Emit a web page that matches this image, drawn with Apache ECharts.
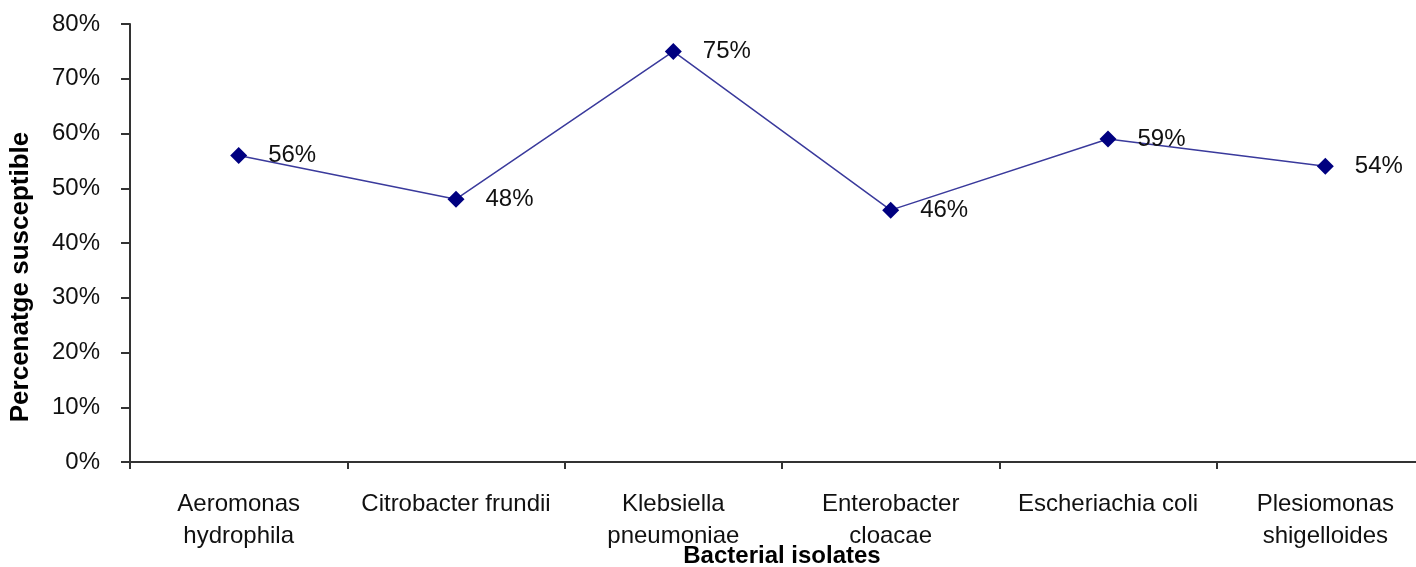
<!DOCTYPE html>
<html>
<head>
<meta charset="utf-8">
<script src="https://cdn.jsdelivr.net/npm/echarts@6/dist/echarts.min.js"></script>
<style>html,body{margin:0;padding:0;background:#fff}#c{width:1416px;height:567px}</style>
</head>
<body>
<div id="c"></div>
<script>
const categories = ["Aeromonas\nhydrophila", "Citrobacter frundii", "Klebsiella\npneumoniae", "Enterobacter\ncloacae", "Escheriachia coli", "Plesiomonas\nshigelloides"];
const susceptible = [56, 48, 75, 46, 59, 54];
const yTicks = { min: 0, max: 80, interval: 10 };
const xTitle = "Bacterial isolates";
const yTitle = "Percenatge susceptible";

const chart = echarts.init(document.getElementById('c'), null, { renderer: 'canvas' });
const FONT = '"Liberation Sans", Arial, sans-serif';
chart.setOption({
  backgroundColor: '#ffffff',
  animation: false,
  grid: { left: 130, right: -18, top: 24, bottom: 105, containLabel: false, outerBoundsMode: 'none' },
  xAxis: {
    type: 'category',
    data: categories,
    boundaryGap: true,
    name: xTitle,
    nameLocation: 'middle',
    nameGap: 82,
    nameMoveOverlap: false,
    nameTextStyle: { fontFamily: FONT, fontSize: 24, fontWeight: 'bold', color: '#000' },
    axisLine: { lineStyle: { color: '#333', width: 2 } },
    axisTick: { show: true, length: 7, lineStyle: { color: '#333', width: 2 } },
    axisLabel: { interval: 0, margin: 26, fontFamily: FONT, fontSize: 24, lineHeight: 32, color: '#111', align: 'center' },
    splitLine: { show: false }
  },
  yAxis: {
    type: 'value',
    min: yTicks.min, max: yTicks.max, interval: yTicks.interval,
    name: yTitle,
    nameLocation: 'middle',
    nameGap: 96,
    nameRotate: 90,
    nameMoveOverlap: false,
    nameTextStyle: { fontFamily: FONT, fontSize: 26, fontWeight: 'bold', color: '#000', padding: [0, 68, 0, 0] },
    axisLine: { show: true, lineStyle: { color: '#333', width: 2 } },
    axisTick: { show: true, length: 9, lineStyle: { color: '#333', width: 2 } },
    axisLabel: { margin: 30, fontFamily: FONT, fontSize: 24, color: '#111', formatter: '{value}%' },
    splitLine: { show: false }
  },
  series: [{
    type: 'line',
    data: susceptible,
    symbol: 'diamond',
    symbolSize: 17,
    itemStyle: { color: '#000080' },
    lineStyle: { color: '#3a3a9c', width: 1.5 },
    label: {
      show: true, position: 'right', distance: 21,
      fontFamily: FONT, fontSize: 24, color: '#111',
      formatter: p => p.value + '%'
    }
  }]
});
</script>
</body>
</html>
